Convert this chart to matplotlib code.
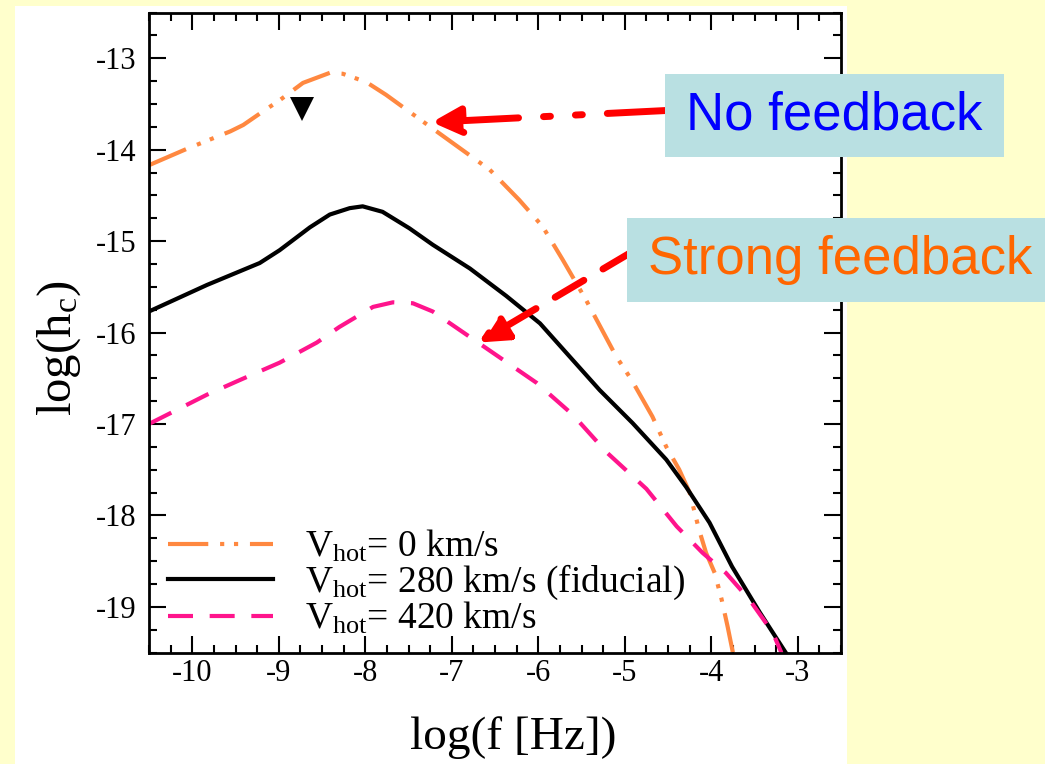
import matplotlib
matplotlib.use("Agg")
import matplotlib.pyplot as plt
from matplotlib.patches import Rectangle
from matplotlib.ticker import MultipleLocator

plt.rcParams['font.family'] = 'serif'
plt.rcParams['font.serif'] = ['Liberation Serif', 'DejaVu Serif']
plt.rcParams['mathtext.fontset'] = 'custom'
plt.rcParams['mathtext.rm'] = 'Liberation Serif'
plt.rcParams['mathtext.it'] = 'Liberation Serif:italic'
plt.rcParams['axes.unicode_minus'] = False
plt.rcParams['lines.scale_dashes'] = False

# log(f) vs log(h_c) for three hot-gas feedback velocities
nofb_x = [-10.5, -10.06, -9.56, -9.41, -9.18, -8.99, -8.72, -8.41, -8.26, -7.99, -7.76, -7.41,
          -7.0, -6.56, -6.22, -5.95, -5.72, -5.45, -5.10, -4.92, -4.68, -4.52, -4.37, -4.25,
          -4.14, -4.06, -3.96, -3.88, -3.81, -3.75]
nofb_y = [-14.17, -13.99, -13.80, -13.73, -13.58, -13.46, -13.27, -13.16, -13.17, -13.26, -13.40, -13.64,
          -13.92, -14.22, -14.55, -14.84, -15.20, -15.64, -16.26, -16.52, -16.92, -17.25, -17.50, -17.75,
          -18.16, -18.41, -18.63, -18.92, -19.22, -19.5]

fid_x = [-10.5, -9.83, -9.22, -8.99, -8.64, -8.41, -8.18, -8.03, -7.80, -7.49, -7.22, -6.79,
         -6.37, -5.98, -5.64, -5.29, -4.91, -4.52, -4.29, -4.02, -3.76, -3.44, -3.14]
fid_y = [-15.77, -15.48, -15.24, -15.10, -14.85, -14.71, -14.64, -14.62, -14.68, -14.86, -15.04, -15.30,
         -15.60, -15.90, -16.26, -16.63, -16.99, -17.39, -17.69, -18.08, -18.56, -19.06, -19.5]

strong_x = [-10.5, -9.83, -9.45, -8.99, -8.56, -8.30, -7.91, -7.68, -7.45, -7.22, -6.85, -6.45,
            -6.02, -5.60, -5.21, -4.75, -4.40, -4.10, -3.83, -3.56, -3.29, -3.19]
strong_y = [-17.0, -16.68, -16.52, -16.33, -16.11, -15.94, -15.72, -15.67, -15.68, -15.77, -16.01, -16.27,
            -16.55, -16.90, -17.31, -17.71, -18.12, -18.41, -18.63, -18.92, -19.28, -19.5]

limit_x = [-8.73]
limit_y = [-13.55]

labels = [r'V$_{\mathrm{hot}}$= 0 km/s',
          r'V$_{\mathrm{hot}}$= 280 km/s (fiducial)',
          r'V$_{\mathrm{hot}}$= 420 km/s']

# arrow ends (tip on curve, tail at the label box)
nofb_tip = (-7.23, -13.70)
nofb_tail = (-4.48, -13.57)
strong_tip = (-6.69, -16.11)
strong_tail = (-4.92, -15.12)

W, H = 1045, 764
fig = plt.figure(figsize=(W / 100, H / 100), dpi=100)
fig.patch.set_facecolor('#FFFFCC')
fig.add_artist(Rectangle((15 / W, 0), (847 - 15) / W, 1 - 6 / H,
                         transform=fig.transFigure, facecolor='white', edgecolor='none', zorder=0))

ax = fig.add_axes([149 / W, 1 - 652.5 / H, (841 - 149) / W, (652.5 - 12.5) / H])

l1, = ax.plot(nofb_x, nofb_y, color='#FF8840', lw=3)
l1.set_dashes([29, 8.5, 3, 7, 3, 8.5])
l2, = ax.plot(fid_x, fid_y, color='black', lw=3)
l3, = ax.plot(strong_x, strong_y, color='#FF148C', lw=3)
l3.set_dashes([18, 12])
ax.plot(limit_x, limit_y, 'v', color='black', ms=17, mew=0)

ax.set_xlim(-10.5, -2.5)
ax.set_ylim(-19.5, -12.5)
ax.xaxis.set_major_locator(MultipleLocator(1))
ax.xaxis.set_minor_locator(MultipleLocator(0.25))
ax.yaxis.set_major_locator(MultipleLocator(1))
ax.yaxis.set_minor_locator(MultipleLocator(0.25))
ax.tick_params(which='both', direction='in', top=True, right=True, width=1.5, labelsize=22)
ax.tick_params(which='major', length=12)
ax.tick_params(which='minor', length=6)
ax.tick_params(axis='x', pad=5)
ax.tick_params(axis='y', pad=9)
for s in ax.spines.values():
    s.set_linewidth(2)

ax.set_xlabel('log(f [Hz])', fontsize=34)
ax.set_ylabel(r'log(h$_\mathrm{c}$)', fontsize=35)
ax.xaxis.set_label_coords(0.526, -0.099)
ax.yaxis.set_label_coords(-0.095, 0.476)

ax.legend([l1, l2, l3], labels, loc='lower left', bbox_to_anchor=(0.0, -0.005),
          frameon=False, fontsize=27, handlelength=2.8, handletextpad=0.85,
          labelspacing=-0.05, borderpad=0.2, borderaxespad=0.3)

# callout arrows
ax.annotate('', xy=nofb_tip, xytext=nofb_tail,
            arrowprops=dict(arrowstyle='-|>,head_length=17,head_width=8.5', mutation_scale=1,
                            color='red', lw=5, shrinkA=0, shrinkB=0,
                            linestyle=(0, (45, 18, 5, 18, 5, 18))))
ax.annotate('', xy=strong_tip, xytext=strong_tail,
            arrowprops=dict(arrowstyle='-|>,head_length=17,head_width=8.5', mutation_scale=1,
                            color='red', lw=5, shrinkA=0, shrinkB=0,
                            linestyle=(0, (24, 16))))

# label boxes
box_col = '#B9E0E2'
fig.add_artist(Rectangle((665 / W, 1 - 157 / H), (1004 - 665) / W, (157 - 74) / H,
                         transform=fig.transFigure, facecolor=box_col, edgecolor='none', zorder=5))
fig.text(834.5 / W, 1 - 116 / H, 'No feedback', color='#0000FF', fontsize=38,
         family='Liberation Sans', ha='center', va='center', zorder=6)
fig.add_artist(Rectangle((627 / W, 1 - 302 / H), (1060 - 627) / W, (302 - 218) / H,
                         transform=fig.transFigure, facecolor=box_col, edgecolor='none', zorder=5))
fig.text(840.5 / W, 1 - 260 / H, 'Strong feedback', color='#FF6600', fontsize=38,
         family='Liberation Sans', ha='center', va='center', zorder=6)

fig.savefig('out.png', dpi=100, facecolor=fig.get_facecolor())
